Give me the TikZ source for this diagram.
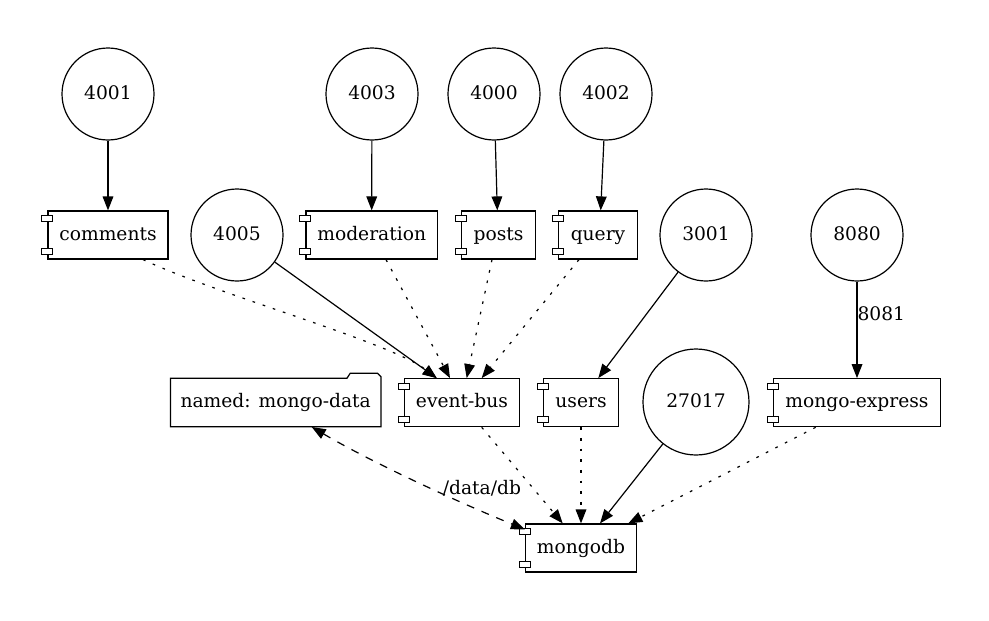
\documentclass[tikz,border=0pt]{standalone}
\usepackage{fontspec}
\setmainfont{DejaVu Serif}
\usetikzlibrary{arrows.meta,calc}
\begin{document}
\begin{tikzpicture}[x=0.75pt,y=-0.75pt,
  every node/.style={font=\fontsize{14pt}{16pt}\selectfont},
  boxtext/.style={text height=11pt,text depth=3.5pt},
  portnode/.style={circle,draw,line width=0.9pt,minimum size=69pt,inner sep=0pt,boxtext},
  bigportnode/.style={portnode,minimum size=79.5pt},
  compbox/.style={rectangle,draw,line width=0.9pt,minimum height=36pt,inner sep=0pt,boxtext},
  volnode/.style={rectangle,minimum height=36pt,minimum width=157.5pt,inner sep=0pt,boxtext},
  tabbox/.style={line width=0.7pt,fill=white},
  arrowtip/.tip={Triangle[length=10.5pt,width=8pt]},
  solidlink/.style={line width=0.9pt,-arrowtip},
  deplink/.style={solidlink,dash pattern=on 2pt off 6pt},
  mountlink/.style={line width=0.9pt,dash pattern=on 6pt off 6pt,arrowtip-arrowtip},
]
\useasboundingbox[fill=white] (0,0) rectangle (989,621);

% port circles
\node[portnode] (p4001) at (108,94) {4001};
\node[portnode] (p4003) at (372,94) {4003};
\node[portnode] (p4000) at (494,94) {4000};
\node[portnode] (p4002) at (606,94) {4002};
\node[portnode] (p4005) at (237,235) {4005};
\node[portnode] (p3001) at (706,235) {3001};
\node[portnode] (p8080) at (857,235) {8080};
\node[bigportnode] (p27017) at (696,402) {27017};

% services
\node[compbox,minimum width=90pt] (comments) at (108,235) {comments};
\node[compbox,minimum width=98.5pt] (moderation) at (371.7,235) {moderation};
\node[compbox,minimum width=55.8pt] (posts) at (498.5,235) {posts};
\node[compbox,minimum width=58.7pt] (query) at (598,235) {query};
\node[compbox,minimum width=85.7pt] (eventbus) at (462,402.7) {event-bus};
\node[compbox,minimum width=56.5pt] (users) at (581,402.7) {users};
\node[compbox,minimum width=125.5pt] (mongoexpress) at (857,402.7) {mongo-express};
\node[compbox,minimum width=83.25pt] (mongodb) at (581,548) {mongodb};

% volume (folder)
\node[volnode] (mongodata) at (275.7,402.5) {named: mongo-data};
\draw[line width=0.9pt] (mongodata.south west) -- (mongodata.north west)
  -- ($(mongodata.north east)+(-34,0)$) -- ($(mongodata.north east)+(-30.7,-5)$)
  -- ($(mongodata.north east)+(-3.4,-5)$) -- ($(mongodata.north east)+(0,-1.6)$)
  -- (mongodata.south east) -- cycle;

% component tabs
\foreach \n in {comments,moderation,posts,query,eventbus,users,mongoexpress,mongodb}{
  \draw[tabbox] ($(\n.north west)+(-5.5,5.3)$) rectangle ($(\n.north west)+(5.5,11.3)$);
  \draw[tabbox] ($(\n.south west)+(-5.5,-11.3)$) rectangle ($(\n.south west)+(5.5,-5.3)$);
}

% port edges
\draw[solidlink] (p4001) -- (comments.north);
\draw[solidlink] (p4003) -- (moderation.north);
\draw[solidlink] (p4000) -- ($(posts.north)+(-1.2,0)$);
\draw[solidlink] (p4002) -- ($(query.north)+(2.7,0)$);
\draw[solidlink] (p4005) -- ($(eventbus.north)+(-25.3,0)$);
\draw[solidlink] (p3001) -- ($(users.north)+(17.3,0)$);
\draw[solidlink] (p8080) -- node[pos=0.334,anchor=west,inner sep=0pt] {8081} (mongoexpress.north);
\draw[solidlink] (p27017) -- ($(mongodb.north)+(19,0)$);

% dependencies
\draw[deplink] ($(comments.south)+(35,0)$) .. controls +(77,36) and +(-46.7,-36) .. ($(eventbus.north)+(-25.3,0)$);
\draw[deplink] ($(moderation.south)+(14.3,0)$) -- ($(eventbus.north)+(-12,0)$);
\draw[deplink] ($(posts.south)+(-6.5,0)$) -- ($(eventbus.north)+(4.7,0)$);
\draw[deplink] ($(query.south)+(-19,0)$) -- ($(eventbus.north)+(19.7,0)$);
\draw[deplink] ($(eventbus.south)+(19.7,0)$) -- ($(mongodb.north)+(-18.3,0)$);
\draw[deplink] (users.south) -- (mongodb.north);
\draw[deplink] ($(mongoexpress.south)+(-41.3,0)$) -- ($(mongodb.north)+(47.3,0)$);

% volume mount
\draw[mountlink] ($(mongodata.south)+(36,0.2)$) .. controls +(63,37) and +(-66,-27) .. ($(mongodb.north west)+(0,6)$)
  node[pos=0.75,xshift=7pt,yshift=14pt] {/data/db};
\end{tikzpicture}
\end{document}
